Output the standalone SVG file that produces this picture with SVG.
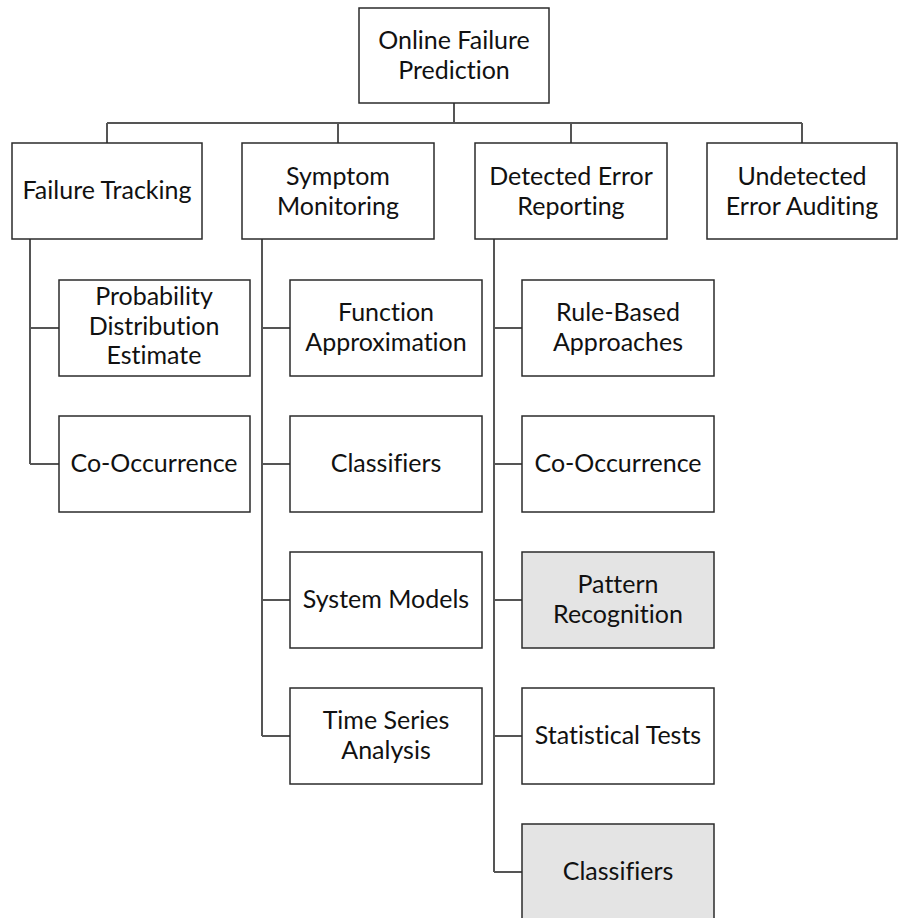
<svg xmlns="http://www.w3.org/2000/svg" width="899" height="918" viewBox="0 0 899 918">
<style>
.b{fill:#fff;stroke:#2b2b2b;stroke-width:1.5}
.g{fill:#e4e4e4;stroke:#2b2b2b;stroke-width:1.5}
.t{font-family:Lato,"Liberation Sans",sans-serif;font-size:25px;fill:#111;text-anchor:middle;font-variant-ligatures:none;font-feature-settings:"liga" 0}
.c{fill:none;stroke:#555;stroke-width:2}
</style>
<rect width="899" height="918" fill="#fff"/>
<g id="connectors">
<path class="c" d="M454 103V123M107 123H802M107 123V143M338 123V143M571 123V143M802 123V143"/>
<path class="c" d="M30 239V464M30 328H59M30 464H59"/>
<path class="c" d="M262 239V736M262 328H290M262 464H290M262 600H290M262 736H290"/>
<path class="c" d="M494 239V872M494 328H522M494 464H522M494 600H522M494 736H522M494 872H522"/>
</g>
<g id="root"><rect class="b" x="359" y="8" width="190" height="95"/><text class="t" x="454" y="49">Online Failure</text><text class="t" x="454" y="79">Prediction</text></g>
<g id="failure-tracking"><rect class="b" x="12" y="143" width="190" height="96"/><text class="t" x="107" y="199">Failure Tracking</text></g>
<g id="symptom-monitoring"><rect class="b" x="242" y="143" width="192" height="96"/><text class="t" x="338" y="185">Symptom</text><text class="t" x="338" y="215">Monitoring</text></g>
<g id="detected-error-reporting"><rect class="b" x="475" y="143" width="192" height="96"/><text class="t" x="571" y="185">Detected Error</text><text class="t" x="571" y="215">Reporting</text></g>
<g id="undetected-error-auditing"><rect class="b" x="707" y="143" width="190" height="96"/><text class="t" x="802" y="185">Undetected</text><text class="t" x="802" y="215">Error Auditing</text></g>
<g id="prob-dist"><rect class="b" x="59" y="280" width="191" height="96"/><text class="t" x="154" y="305">Probability</text><text class="t" x="154" y="335">Distribution</text><text class="t" x="154" y="364">Estimate</text></g>
<g id="ft-cooccurrence"><rect class="b" x="59" y="416" width="191" height="96"/><text class="t" x="154" y="472">Co-Occurrence</text></g>
<g id="function-approx"><rect class="b" x="290" y="280" width="192" height="96"/><text class="t" x="386" y="321">Function</text><text class="t" x="386" y="351">Approximation</text></g>
<g id="sm-classifiers"><rect class="b" x="290" y="416" width="192" height="96"/><text class="t" x="386" y="472">Classifiers</text></g>
<g id="system-models"><rect class="b" x="290" y="552" width="192" height="96"/><text class="t" x="386" y="608">System Models</text></g>
<g id="time-series"><rect class="b" x="290" y="688" width="192" height="96"/><text class="t" x="386" y="729">Time Series</text><text class="t" x="386" y="759">Analysis</text></g>
<g id="rule-based"><rect class="b" x="522" y="280" width="192" height="96"/><text class="t" x="618" y="321">Rule-Based</text><text class="t" x="618" y="351">Approaches</text></g>
<g id="der-cooccurrence"><rect class="b" x="522" y="416" width="192" height="96"/><text class="t" x="618" y="472">Co-Occurrence</text></g>
<g id="pattern-recognition"><rect class="g" x="522" y="552" width="192" height="96"/><text class="t" x="618" y="593">Pattern</text><text class="t" x="618" y="623">Recognition</text></g>
<g id="statistical-tests"><rect class="b" x="522" y="688" width="192" height="96"/><text class="t" x="618" y="744">Statistical Tests</text></g>
<g id="der-classifiers"><rect class="g" x="522" y="824" width="192" height="100"/><text class="t" x="618" y="880">Classifiers</text></g>
</svg>
